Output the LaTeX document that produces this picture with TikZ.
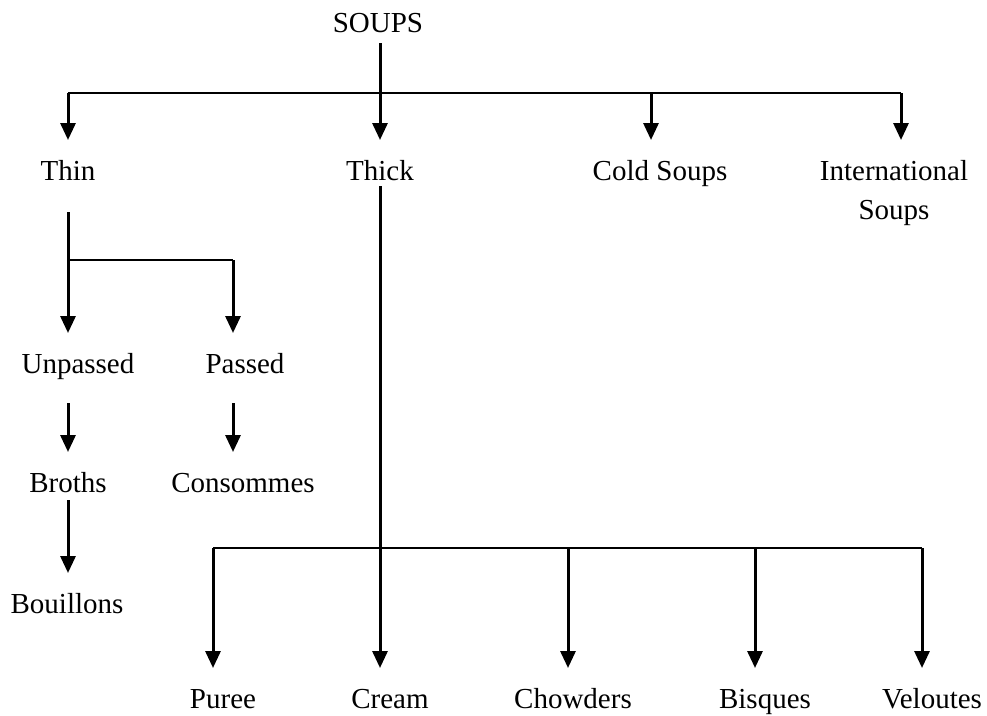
\documentclass[tikz,border=0pt]{standalone}
\usepackage{fontspec}
\setmainfont{Liberation Serif}
\usetikzlibrary{arrows.meta}

\begin{document}
\begin{tikzpicture}[x=1pt,y=-1pt,
    lbl/.style={inner sep=0pt, outer sep=0pt, anchor=base, text height=20pt, text depth=6pt,
      font=\fontsize{29}{39}\selectfont},
    arr/.style={line width=3pt, -{Triangle[width=15pt,length=17pt]}, shorten >=20pt},
    bar/.style={line width=2.4pt},
    twig/.style={line width=1.8pt}]
        \useasboundingbox (0,0) rectangle (987,715);
        % labels
        \node[lbl] (soups) at (378,32) {SOUPS};
        \node[lbl] (thin) at (68,180) {Thin};
        \node[lbl] (thick) at (380,180) {Thick};
        \node[lbl] (cold) at (660,180) {Cold Soups};
        \node[inner sep=0pt, anchor=north, align=center, font=\fontsize{29}{39}\selectfont] (intl) at (894,160) {International\\Soups};
        \node[lbl] (unpassed) at (78,373) {Unpassed};
        \node[lbl] (passed) at (245,373) {Passed};
        \node[lbl] (broths) at (68,492) {Broths};
        \node[lbl] (consommes) at (243,492) {Consommes};
        \node[lbl] (bouillons) at (67,613) {Bouillons};
        \node[lbl] (puree) at (223,708) {Puree};
        \node[lbl] (cream) at (390,708) {Cream};
        \node[lbl] (chowders) at (573,708) {Chowders};
        \node[lbl] (bisques) at (765,708) {Bisques};
        \node[lbl] (veloutes) at (932,708) {Veloutes};
        % junctions
        \coordinate (tl) at (68,93);
        \coordinate (tc) at (651,93);
        \coordinate (tr) at (901,93);
        \coordinate (tb) at (68,260);
        \coordinate (pb) at (233,260);
        \coordinate (bl) at (213,548);
        \coordinate (b1) at (568,548);
        \coordinate (b2) at (755,548);
        \coordinate (br) at (922,548);
        % first level
        \draw[bar] (tl) -- (tr);
        \draw[arr, shorten <=5pt] (thick.north |- soups.south) -- (thick.north);
        \draw[arr] (tl) -- (tl |- thin.north);
        \draw[arr] (tc) -- (tc |- cold.north);
        \draw[arr] (tr) -- (tr |- intl.north);
        % thin soups
        \draw[twig] (tb) -- (pb);
        \draw[arr, shorten <=26pt] (tl |- thin.south) -- (tl |- unpassed.north);
        \draw[arr] (pb) -- (pb |- passed.north);
        \draw[arr, shorten <=24pt] (tl |- unpassed.south) -- (tl |- broths.north);
        \draw[arr, shorten <=24pt] (pb |- passed.south) -- (pb |- consommes.north);
        \draw[arr, shorten <=2pt] (tl |- broths.south) -- (tl |- bouillons.north);
        % thick soups
        \draw[bar] (bl) -- (br);
        \draw[arr] (thick.south) -- (thick.south |- cream.north);
        \draw[arr] (bl) -- (bl |- puree.north);
        \draw[arr] (b1) -- (b1 |- chowders.north);
        \draw[arr] (b2) -- (b2 |- bisques.north);
        \draw[arr] (br) -- (br |- veloutes.north);
      \end{tikzpicture}
\end{document}
